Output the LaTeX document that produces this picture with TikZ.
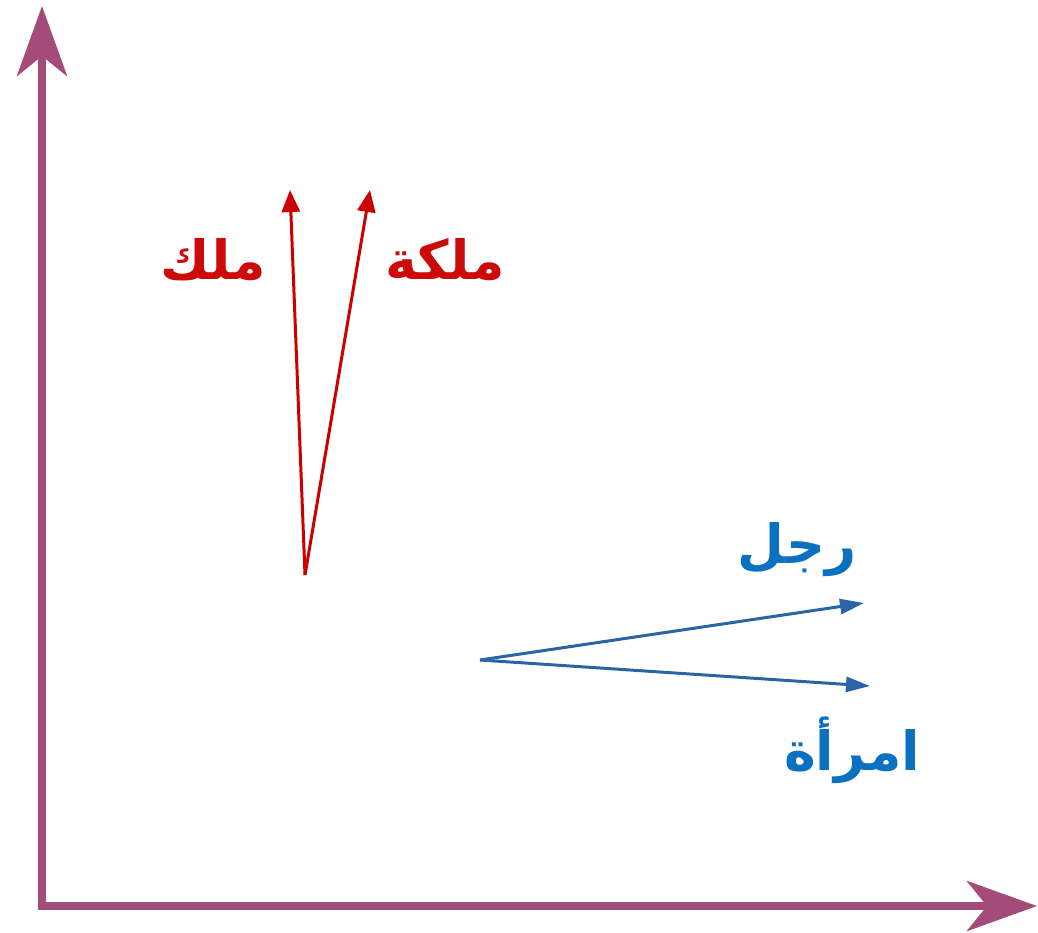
\documentclass[tikz,border=0pt]{standalone}
\usepackage{fontspec}
\newfontfamily\arabicfont[Script=Arabic]{DejaVu Sans}
\TeXXeTstate=1
\usetikzlibrary{arrows.meta}
\definecolor{axiscol}{HTML}{A34C79}
\definecolor{royal}{HTML}{CC0000}
\definecolor{royaltxt}{HTML}{CC0A0A}
\definecolor{human}{HTML}{2A64A4}
\definecolor{humantxt}{HTML}{0A70C0}
\begin{document}
\begin{tikzpicture}[x=1pt, y=-1pt,
    axis/.style={line width=8pt, color=axiscol, -{Stealth[length=70pt, width=50pt, inset=20pt]}},
    vecred/.style={line width=3pt, color=royal, -{Triangle[length=22pt, width=18pt]}},
    vecblue/.style={line width=3pt, color=human, -{Triangle[length=24pt, width=15pt]}},
    word/.style={font=\fontsize{54}{60}\selectfont\arabicfont\bfseries, inner sep=0pt},
]
\useasboundingbox (0,0) rectangle (1038,932);

% axes
\coordinate (O) at (42,906);
\coordinate (Ytop) at (42,6);
\coordinate (Xend) at (1037,906);
\draw[axis] (O) ++(0,4) -- (Ytop);
\draw[axis] (O) ++(-4,0) -- (Xend);

% king / queen
\coordinate (R0) at (305,575);
\coordinate (king) at (290,190);
\coordinate (queen) at (370,190);
\draw[vecred] (R0) -- (king);
\draw[vecred] (R0) -- (queen);
\node[word, text=royaltxt] (kinglbl) at (213,260) {\beginR ملك\endR};
\node[word, text=royaltxt] (queenlbl) at (445,260) {\beginR ملكة\endR};

% man / woman
\coordinate (B0) at (480,660);
\coordinate (man) at (864,603);
\coordinate (woman) at (870,686);
\draw[vecblue] (B0) -- (man);
\draw[vecblue] (B0) -- (woman);
\node[word, text=humantxt] (manlbl) at (797,550) {\beginR رجل\endR};
\node[word, text=humantxt] (womanlbl) at (852,750) {\beginR امرأة\endR};
\end{tikzpicture}
\end{document}
